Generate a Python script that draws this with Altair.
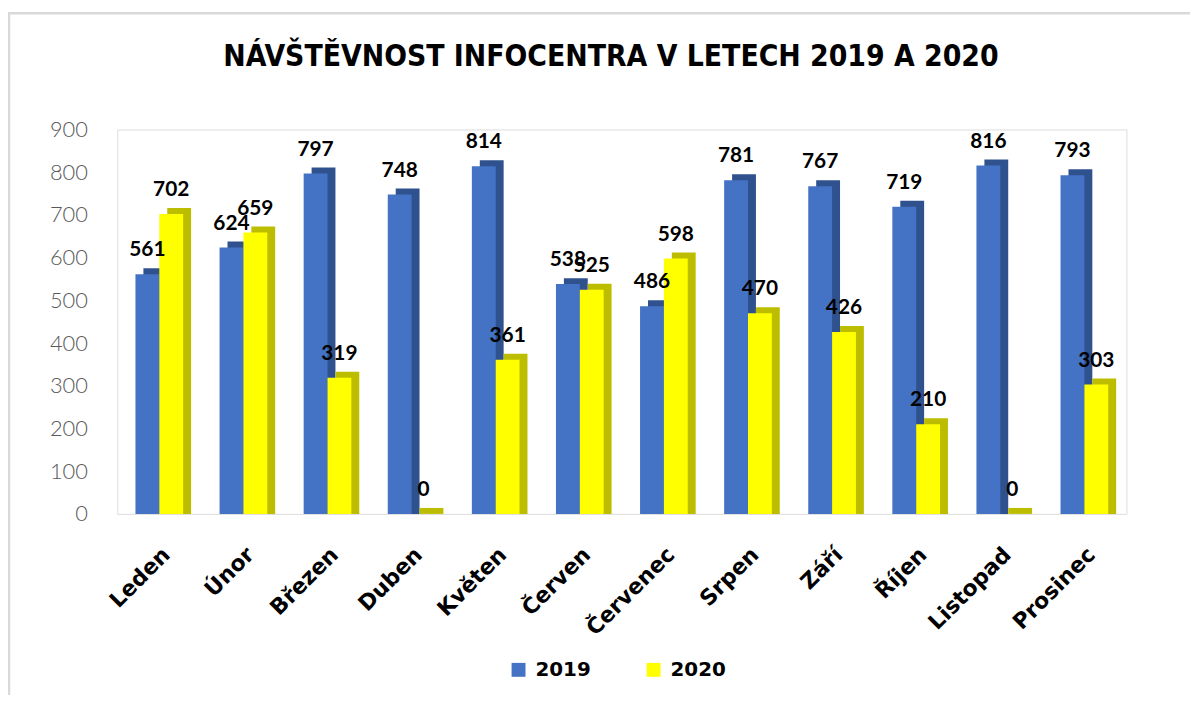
import altair as alt
import pandas as pd

months = ["Leden", "Únor", "Březen", "Duben", "Květen", "Červen",
          "Červenec", "Srpen", "Září", "Říjen", "Listopad", "Prosinec"]
years = ["2019", "2020"]
v2019 = [561, 624, 797, 748, 814, 538, 486, 781, 767, 719, 816, 793]
v2020 = [702, 659, 319, 0, 361, 525, 598, 470, 426, 210, 0, 303]
y_ticks = [0, 100, 200, 300, 400, 500, 600, 700, 800, 900]

front_colors = ["#4472C4", "#FFFF00"]
side_colors = ["#2F528F", "#BDBD00"]

rows = []
for m, a, b in zip(months, v2019, v2020):
    rows.append({"month": m, "year": years[0], "value": a})
    rows.append({"month": m, "year": years[1], "value": b})
df = pd.DataFrame(rows)

W, H = 1016, 387
BAR = 24
DEPTH = 8

x_enc = alt.X("month:N", sort=months, title=None,
              scale=alt.Scale(paddingInner=0.433, paddingOuter=0.2165),
              axis=alt.Axis(labelAngle=-45, labelFont="DejaVu Sans", labelFontWeight="bold",
                            labelFontSize=22, labelColor="#000000", domain=False, ticks=False,
                            labelPadding=30))
xo_front = alt.XOffset("year:N", sort=years,
                       scale=alt.Scale(domain=years, range=[0, 2 * BAR], paddingInner=0, paddingOuter=0))
xo_side = alt.XOffset("year:N", sort=years,
                      scale=alt.Scale(domain=years, range=[DEPTH, 2 * BAR + DEPTH], paddingInner=0, paddingOuter=0))
y_enc = alt.Y("value:Q", stack=None, title=None,
              scale=alt.Scale(domain=[0, 900], nice=False),
              axis=alt.Axis(values=y_ticks, grid=False, domain=False, ticks=False,
                            labelFont="Lato", labelFontWeight=300, labelFontSize=22,
                            labelColor="#595959", labelPadding=30))

base = alt.Chart(df)

side = base.mark_bar(yOffset=-6, y2Offset=0).encode(
    x=x_enc, xOffset=xo_side, y=y_enc,
    fill=alt.condition(alt.datum.year == "2019", alt.value(side_colors[0]), alt.value(side_colors[1])),
)

front = base.mark_bar().encode(
    x=x_enc, xOffset=xo_front, y=y_enc,
    color=alt.Color("year:N", sort=years, title=None,
                    scale=alt.Scale(domain=years, range=front_colors),
                    legend=alt.Legend(orient="none", legendX=394, legendY=534,
                                      direction="horizontal", symbolType="square",
                                      symbolSize=196, symbolStrokeWidth=0,
                                      labelFont="DejaVu Sans", labelFontWeight="bold",
                                      labelFontSize=20, labelColor="#000000",
                                      labelOffset=7, columnPadding=53, padding=0)),
)

def label_layer(year, shift):
    return base.transform_filter(alt.datum.year == year).mark_text(
        dy=-18, dx=shift, baseline="alphabetic", align="center",
        font="Lato", fontWeight="bold", fontSize=21, color="#000000").encode(
        x=x_enc, y=y_enc, text=alt.Text("value:Q"))

labels19 = label_layer(years[0], -BAR / 2)
labels20 = label_layer(years[1], BAR / 2)

frame = alt.Chart(pd.DataFrame({"f": [0]})).mark_rect(
    fill=None, stroke="#D9D9D9", strokeWidth=2.5).encode(
    x=alt.value(-109), x2=alt.value(1200), y=alt.value(-117), y2=alt.value(700))

bars = alt.layer(side, front).resolve_scale(xOffset="independent")

chart = alt.layer(frame, bars, labels19, labels20).properties(
    width=W, height=H,
    title=alt.TitleParams("NÁVŠTĚVNOST INFOCENTRA V LETECH 2019 A 2020",
                          font="DejaVu Sans Condensed", fontSize=30, fontWeight="bold",
                          color="#000000", anchor="middle", frame="group",
                          baseline="bottom", offset=-90, dx=-11),
    autosize=alt.AutoSizeParams(type="none"),
    padding={"left": 110, "top": 120, "right": 64, "bottom": 180},
).configure_view(stroke=None).configure(background="#FFFFFF")

chart.save("out.html", embed_options={"renderer": "svg", "actions": False})
